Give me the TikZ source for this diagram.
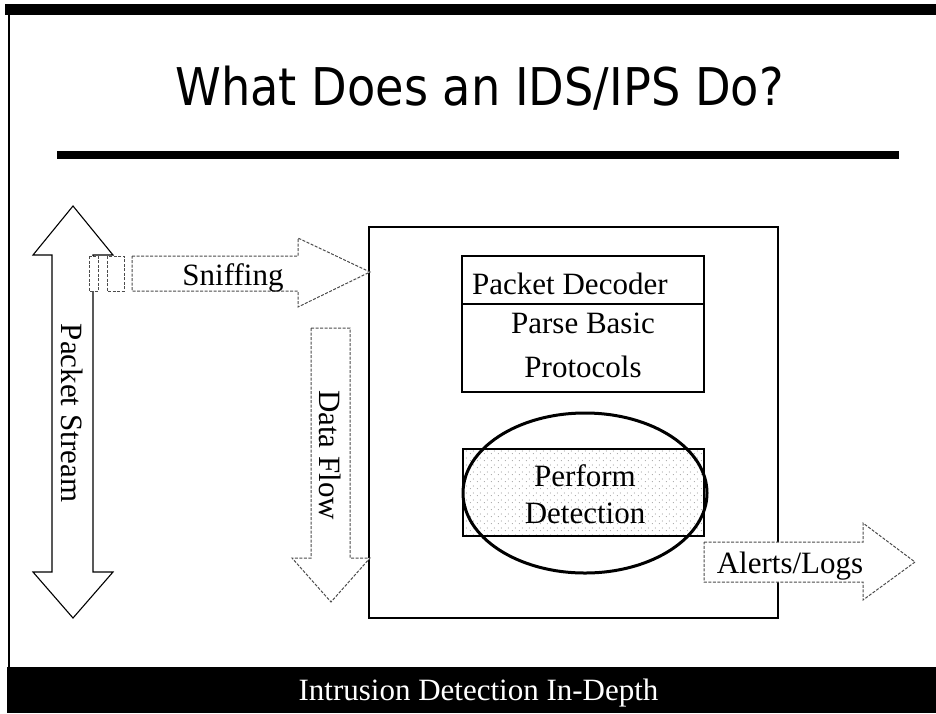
\documentclass[tikz,border=0pt]{standalone}
\usepackage{fontspec}
\setmainfont{Liberation Serif}
\newfontfamily\titlefont[FakeStretch=0.89]{DejaVu Sans}
\usetikzlibrary{patterns}

% sparse speckle used as the shading of the detection stage
\pgfdeclarepatternformonly{sparsedots}{\pgfpointorigin}{\pgfpoint{7pt}{7pt}}{\pgfpoint{7pt}{7pt}}{%
  \pgfpathcircle{\pgfpoint{1.5pt}{1.5pt}}{0.5pt}%
  \pgfpathcircle{\pgfpoint{5pt}{4.5pt}}{0.5pt}%
  \pgfusepath{fill}}

\tikzset{
  solidarrow/.style={draw=black, line width=1.1pt, fill=white, line join=miter},
  faintarrow/.style={draw=black!70, line width=1pt, fill=white, dash pattern=on 3pt off 1.5pt},
  stagebox/.style={draw=black, line width=1.3pt},
  lbl/.style={font=\fontsize{31}{36}\selectfont, inner sep=0pt},
}

\begin{document}
\begin{tikzpicture}[x=1pt,y=-1pt]
\useasboundingbox (0,0) rectangle (936,713);
\fill[white] (0,0) rectangle (936,713);

% slide frame: header bar, left edge, title rule, footer bar
\fill[black] (5,4) rectangle (936,15);
\draw[line width=2pt] (9,15) -- (9,667);
\fill[black] (57,151) rectangle (899,159);
\fill[black] (7,667) rectangle (936,713);

\node[anchor=base, font=\titlefont\fontsize{52}{60}\selectfont, inner sep=0pt] (title)
  at (479.5,105) {What Does an IDS/IPS Do?};
\node[lbl, anchor=base, text=white] (footer) at (478.5,700) {Intrusion Detection In-Depth};

% packet stream (double arrow)
\draw[solidarrow] (73,206) -- (113,255) -- (93,255) -- (93,572) -- (113,572) -- (73,618)
  -- (33,572) -- (52,572) -- (52,255) -- (33,255) -- cycle;
\node[lbl, rotate=-90] (stream) at (72.5,413) {Packet Stream};

% IDS/IPS engine
\node[draw=black, line width=1.6pt, minimum width=409pt, minimum height=391pt, inner sep=0pt]
  (engine) at (573.5,422.5) {};

% sniffing (striped right arrow)
\draw[faintarrow] (89,256) rectangle (98,291);
\draw[faintarrow] (107,256) rectangle (124,291);
\draw[faintarrow] (132,256) -- (298,256) -- (298,238) -- (370,272) -- (298,307)
  -- (298,291) -- (132,291) -- cycle;
\node[lbl, anchor=base] (sniff) at (233,285) {Sniffing};

% data flow (down arrow)
\draw[faintarrow] (311,328) -- (350,328) -- (350,558) -- (370,558) -- (331,602)
  -- (292,558) -- (311,558) -- cycle;
\node[lbl, rotate=-90] (flow) at (330.5,455) {Data Flow};

% decoder stage
\draw[stagebox] (462,256) rectangle (704,392);
\draw[stagebox] (462,304) -- (704,304);
\node[lbl, anchor=base west] (decoder) at (472,294) {Packet Decoder};
\node[lbl, anchor=base] (parse1) at (583,333) {Parse Basic};
\node[lbl, anchor=base] (parse2) at (583,377) {Protocols};

% detection stage
\draw[stagebox, pattern=sparsedots, pattern color=black!55] (463,449) rectangle (704,536);
\node[lbl, anchor=base] (perform) at (585,486) {Perform};
\node[lbl, anchor=base] (detect) at (585,523) {Detection};
\draw[line width=3pt] (585,493) ellipse [x radius=122, y radius=80];

% output
\draw[faintarrow] (704,542) -- (863,542) -- (863,523) -- (915,562) -- (863,600)
  -- (863,582) -- (704,582) -- cycle;
\node[lbl, anchor=base] (alerts) at (790,573) {Alerts/Logs};
\end{tikzpicture}
\end{document}
